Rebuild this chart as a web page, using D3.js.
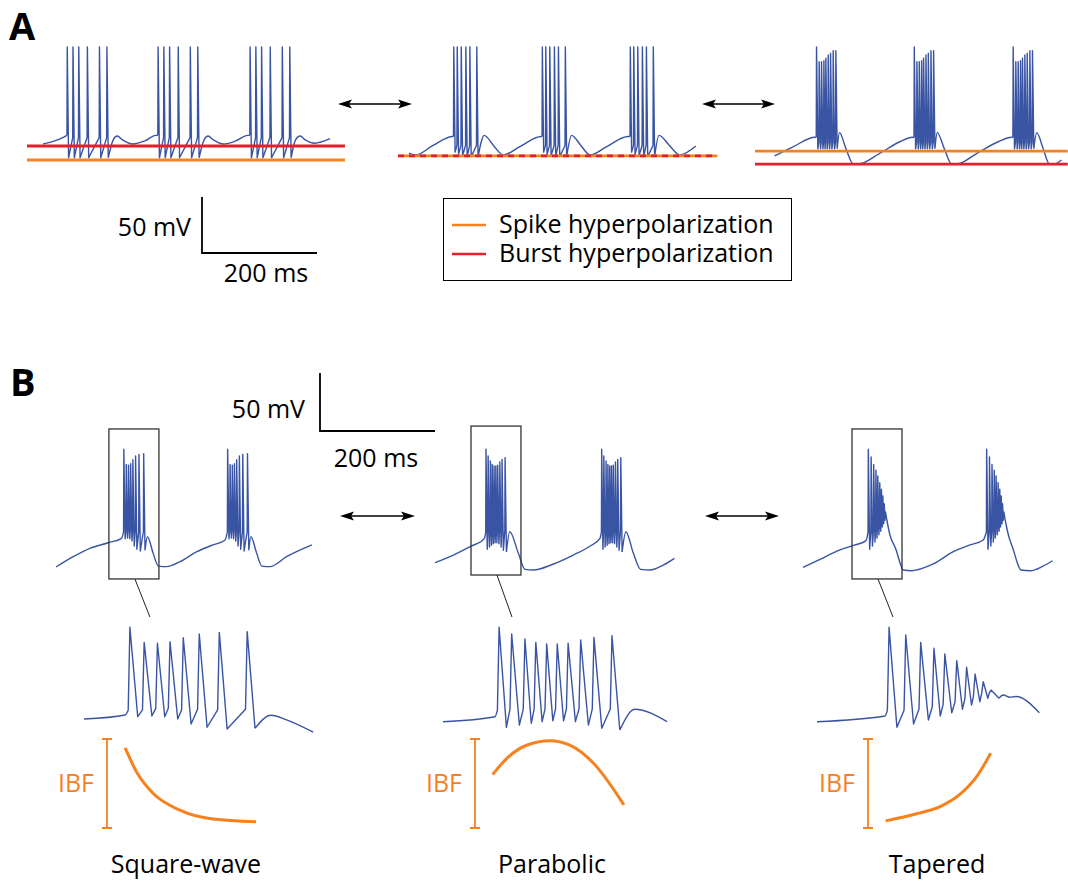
<!DOCTYPE html>
<html>
<meta charset="utf-8">
<script src="https://cdn.jsdelivr.net/npm/d3@7"></script>
<style>
body { margin: 0; background: #fff; }
svg text { font-family: "Open Sans", sans-serif; }
</style>
<body>
<svg id="fig" width="1068" height="882"></svg>
<script>
// colours
const BLUE = "#3a54a4", ORANGE = "#f5821f", RED = "#e5202a";

// ---------- panel A data (time in ms, voltage in mV) ----------
// slow wave waypoints [t, v] outside of the bursts
const a1Slow = [[28,-45.7],[48,-43],[64,-39.5],[150,-42],[157,-38.6],[166,-42],[184,-45.7],[205,-43],[224,-38],
  [308,-42],[315,-38.6],[324,-42],[342,-45.7],[363,-43],[384,-38],[467,-42],[475,-38.6],[484,-42],[500,-45],[527,-41]];
// burst spikes [dt from onset, pre level, peak, trough]
const a1Burst = [[0,-38,41,-58],[10,-40,41,-58],[20,-40,41,-58],[35,-40,41,-58],[56,-40,41,-58],[69,-40,41,-58]];
const a1Onsets = [70, 228, 388];

const a2Slow = [[19,-53.8],[31,-55.5],[61,-47],[95,-39],[150,-38],[166,-47],[183,-55.5],[212,-48],[249,-39],
  [302,-38],[318,-47],[334,-55.5],[363,-48],[400,-39],[454,-38],[472,-47],[490,-55.5],[518,-47.5]];
const a2Burst = [[0,-39,41,-53],[6,-47,41,-55],[13,-47,41,-56],[21,-47,41,-57],[28,-47,41,-57],[40,-47,41,-57]];
const a2Onsets = [97, 251, 404];

const a3Slow = [[34,-56.4],[67,-48],[104,-39.7],[147,-35.6],[158,-49.6],[171,-63.6],[180,-63.6],[217,-54],[252,-43.7],[274,-39.7],
  [317,-35.6],[329,-49.6],[342,-63.6],[351,-63.6],[386,-54],[423,-43.7],[446,-39.7],[490,-35.6],[501,-49.6],[512,-63.6],[520,-63.6],[533,-60]];
const a3Burst = [[0,-40,41,-50],[4.6,-44,27.8,-50],[8.7,-44,27.8,-50],[12.8,-44,28.7,-50],[16.2,-44,30.8,-50],
  [20.3,-44,33.8,-50],[24.4,-44,35.3,-50],[29,-44,37.6,-50],[33.6,-44,37.6,-50]];
const a3Onsets = [107, 277, 449];

// hyperpolarization levels (mV) and line length (ms) per trace
const aSpikeHyp = [-60, -56.4, -52];
const aBurstHyp = [-47.5, -56.4, -63.6];
const aLineEnd = [553, 555, 544];

// ---------- panel B data ----------
const b1Burst = [[0,-30,41.5,-35.6],[4.2,-29.8,28.5,-35],[8.1,-28.4,27.7,-35.6],[11.8,-28.4,29,-37.6],
  [15.7,-29.8,32.5,-41.9],[20.4,-29.2,35.7,-44.7],[26.3,-29.8,37.1,-46.2],[34.5,-29.2,37.7,-45.6]];
const b1Slow = [[0,-60],[30,-51.1],[59,-43.9],[91,-39.1],[114,-35.3],[159,-33.9],[169,-48.2],[178,-59.2],[192,-59.7],
  [216,-55.4],[245,-46.8],[273,-41],[294,-36.7],[339,-33.9],[349,-48.2],[358,-59.2],[372,-59.7],[401,-51.1],[445,-41]];
const b1Onsets = [118, 298.5];
const b1InsetSlow = [[0,-37.6],[12.1,-34.1],[55,-34.4],[59.6,-38.4],[67.4,-49]];
const b1InsetOnset = [13.5];

const b2Burst = [[0,-30,41.5,-44.7],[3.7,-29,35.7,-42.8],[7.6,-29,31.4,-41.3],[10.8,-29,28.5,-39.9],[14,-29,27.1,-39.1],
  [17.1,-29,27.1,-39.1],[20.3,-29,27.7,-39.9],[24,-29,30.5,-42.8],[27.9,-29,32.8,-45.6],[33.2,-29,34.2,-47.1]];
const b2Slow = [[0,-56.3],[32,-49.7],[61,-42.5],[86,-35.3],[130,-29.6],[145,-48.2],[156.5,-62],[171,-62.6],[206,-57.4],
  [240.5,-49.7],[270,-41.9],[287,-35.3],[332,-29.6],[345,-48.2],[357.6,-62],[374,-62.6],[397,-58.3],[416.4,-52.5]];
const b2Onsets = [88.7, 289.9];
const b2InsetSlow = [[0,-39.9],[15.3,-35.6],[56.4,-29.2],[65.9,-39.9]];
const b2InsetOnset = [16.5];

const b3Burst = [[0,-30,41.5,-44.7],[4.9,-30,34.8,-41.9],[9.3,-29,28.5,-38.4],[13.2,-27,23.4,-35],[16.4,-25,18.4,-32.2],
  [19.9,-23,12.7,-29.2],[22.8,-20,7,-25.5],[25.3,-18,1.2,-22.7],[27.7,-16,-5.4,-19.7],[30,-15,-12.6,-19.7]];
const b3Slow = [[0,-60.3],[29.6,-53.4],[64.3,-45.3],[90.4,-41],[109.6,-37.3],[151,-32],[162,-45.3],[169,-56.8],[174.4,-62.6],
  [189,-63.2],[226.6,-57.4],[261.4,-46.8],[290.4,-41],[313.5,-36.7],[357,-32],[366,-45.3],[373,-56.8],[379,-62.6],[395,-63.2],[418,-59.1],[434,-54.6]];
const b3Onsets = [113.6, 319.4];
const b3InsetSlow = [[0,-39.9],[20,-35],[54.8,-16.9],[56.7,-18.9],[58.5,-18.2],[65.4,-32.2]];
const b3InsetOnset = [21.2];

// zoom boxes [t0, t1] and [v0, v1] on the B overview traces
const bBoxT = [[92,179],[62.6,149.5],[85.2,172.2]];
const bBoxV = [[-70.3,59],[-66.9,61.5],[-70.3,59]];

// intra-burst frequency (normalised) vs inset time
const b1Ibf = [[12.1,0.90],[15.6,0.62],[20.3,0.39],[28.2,0.20],[37.9,0.10],[50.6,0.07]];
const b2Ibf = [[14.6,0.60],[18.7,0.78],[24.6,0.93],[31.5,0.98],[37.3,0.93],[44.2,0.73],[53.2,0.26]];
const b3Ibf = [[20.2,0.08],[29.3,0.16],[36.2,0.24],[42.1,0.38],[47,0.58],[51.1,0.84]];

const bNames = ["Square-wave", "Parabolic", "Tapered"];

// ---------- layout ----------
const svg = d3.select("#fig");
svg.append("rect").attr("width", 1068).attr("height", 882).attr("fill", "#fff");

const aX0 = [27, 398, 755], bX0 = [56, 435, 803], insX0 = [84, 443, 817];
const yA = d3.scaleLinear().domain([-60, 40]).range([160, 48]);
const yB = d3.scaleLinear().domain([-60, 40]).range([567, 451]);
const yIns = d3.scaleLinear().domain([-60, 40]).range([745, 629]);
const yIbf = d3.scaleLinear().domain([0, 1]).range([828, 739]);
function tScale(x0) { return d3.scaleLinear().domain([0, 200]).range([x0, x0 + 115]); }
function insScale(x0) { return d3.scaleLinear().domain([0, 50]).range([x0, x0 + 170]); }

// points [t, v, isSpike]
function buildTrace(slow, burst, onsets) {
  var pts = slow.map(d => [d[0], d[1], false]);
  onsets.forEach(function(t0) {
    burst.forEach(function(s, i) {
      var t = t0 + s[0];
      var next = burst[i + 1];
      var fall = next ? Math.min(2.3, 0.58 * (next[0] - s[0])) : 2.3;
      pts.push([t - 0.5, s[1], true], [t, s[2], true], [t + fall, s[3], true]);
    });
  });
  pts.sort(function(a, b) { return a[0] - b[0]; });
  return pts;
}

// slow stretches are smoothed, spikes are kept sharp
function drawTrace(x, y, pts) {
  var smooth = d3.line().x(d => x(d[0])).y(d => y(d[1])).curve(d3.curveMonotoneX);
  var sharp = d3.line().x(d => x(d[0])).y(d => y(d[1]));
  var out = "", start = 0, cur = null;
  for (var i = 1; i < pts.length; i++) {
    var s = pts[i - 1][2] && pts[i][2];
    if (cur === null) cur = s;
    if (s !== cur) {
      out += (cur ? sharp : smooth)(pts.slice(start, i));
      start = i - 1;
      cur = s;
    }
  }
  out += (cur ? sharp : smooth)(pts.slice(start));
  svg.append("path")
    .attr("fill", "none")
    .attr("stroke", BLUE)
    .attr("stroke-width", 1.4)
    .attr("stroke-linejoin", "round")
    .attr("d", out);
}

function arrow(x1, x2, y) {
  svg.append("line").attr("x1", x1 + 8).attr("x2", x2 - 8).attr("y1", y).attr("y2", y)
    .attr("stroke", "#000").attr("stroke-width", 1.6);
  svg.append("path").attr("fill", "#000")
    .attr("d", "M" + x1 + "," + y + "l14,-4.5l-3,4.5l3,4.5z");
  svg.append("path").attr("fill", "#000")
    .attr("d", "M" + x2 + "," + y + "l-14,-4.5l3,4.5l-3,4.5z");
}

function scaleBar(cx, cy, x, y, vLabel, tLabel) {
  var h = y(-60) - y(-10), w = x(200) - x(0);
  svg.append("path").attr("fill", "none").attr("stroke", "#000").attr("stroke-width", 1.8)
    .attr("d", "M" + cx + "," + (cy - h) + "V" + cy + "H" + (cx + w));
  svg.append("text").attr("x", vLabel[0]).attr("y", vLabel[1]).attr("text-anchor", "end")
    .attr("font-size", 25).text("50 mV");
  svg.append("text").attr("x", tLabel[0]).attr("y", tLabel[1]).attr("text-anchor", "middle")
    .attr("font-size", 25).text("200 ms");
}

// ---------- panel A ----------
svg.append("text").attr("x", 9).attr("y", 40).attr("font-size", 38).attr("font-weight", 700).text("A");

const aData = [[a1Slow, a1Burst, a1Onsets], [a2Slow, a2Burst, a2Onsets], [a3Slow, a3Burst, a3Onsets]];
aData.forEach(function(d, i) {
  var x = tScale(aX0[i]);
  drawTrace(x, yA, buildTrace(d[0], d[1], d[2]));
  svg.append("line").attr("x1", x(0)).attr("x2", x(aLineEnd[i]))
    .attr("y1", yA(aSpikeHyp[i])).attr("y2", yA(aSpikeHyp[i]))
    .attr("stroke", ORANGE).attr("stroke-width", 2.8);
  svg.append("line").attr("x1", x(0)).attr("x2", x(aLineEnd[i]))
    .attr("y1", yA(aBurstHyp[i])).attr("y2", yA(aBurstHyp[i]))
    .attr("stroke", RED).attr("stroke-width", 2.8)
    .attr("stroke-dasharray", aSpikeHyp[i] === aBurstHyp[i] ? "6,5" : null);
});

arrow(338, 412, 104);
arrow(702, 775, 104);
scaleBar(202, 253, tScale(0), yA, [191, 236], [266, 282]);

// legend
svg.append("rect").attr("x", 443.5).attr("y", 198.5).attr("width", 348).attr("height", 82)
  .attr("fill", "none").attr("stroke", "#000").attr("stroke-width", 1);
[["Spike hyperpolarization", ORANGE], ["Burst hyperpolarization", RED]].forEach(function(d, i) {
  var yy = 225 + i * 29;
  svg.append("line").attr("x1", 452).attr("x2", 486).attr("y1", yy).attr("y2", yy)
    .attr("stroke", d[1]).attr("stroke-width", 2.5);
  svg.append("text").attr("x", 499).attr("y", yy + 8).attr("font-size", 25).text(d[0]);
});

// ---------- panel B ----------
svg.append("text").attr("x", 10).attr("y", 396).attr("font-size", 38).attr("font-weight", 700).text("B");
scaleBar(320, 431, tScale(0), yB, [305, 418], [376, 467]);
arrow(340, 415, 516);
arrow(705, 779, 516);

const bData = [
  [b1Slow, b1Burst, b1Onsets, b1InsetSlow, b1InsetOnset, b1Ibf],
  [b2Slow, b2Burst, b2Onsets, b2InsetSlow, b2InsetOnset, b2Ibf],
  [b3Slow, b3Burst, b3Onsets, b3InsetSlow, b3InsetOnset, b3Ibf]
];
const ibfBarX = [107, 475, 868];
const nameX = [186, 552, 937];

bData.forEach(function(d, i) {
  var x = tScale(bX0[i]);
  drawTrace(x, yB, buildTrace(d[0], d[1], d[2]));

  // zoom box + connector
  var bx0 = x(bBoxT[i][0]), bx1 = x(bBoxT[i][1]);
  var by0 = yB(bBoxV[i][1]), by1 = yB(bBoxV[i][0]);
  svg.append("rect").attr("x", bx0).attr("y", by0).attr("width", bx1 - bx0).attr("height", by1 - by0)
    .attr("fill", "none").attr("stroke", "#333").attr("stroke-width", 1.3);
  var cx = bx0 + 0.52 * (bx1 - bx0);
  svg.append("line").attr("x1", cx).attr("y1", by1).attr("x2", cx + 15).attr("y2", 617)
    .attr("stroke", "#222").attr("stroke-width", 1);

  // magnified burst
  var xi = insScale(insX0[i]);
  drawTrace(xi, yIns, buildTrace(d[3], d[1], d[4]));

  // IBF
  var bx = ibfBarX[i];
  svg.append("path").attr("fill", "none").attr("stroke", ORANGE).attr("stroke-width", 1.8)
    .attr("d", "M" + (bx - 5) + "," + yIbf(1) + "H" + (bx + 5) + "M" + bx + "," + yIbf(1) +
      "V" + yIbf(0) + "M" + (bx - 5) + "," + yIbf(0) + "H" + (bx + 5));
  svg.append("text").attr("x", bx - 13).attr("y", 792).attr("text-anchor", "end")
    .attr("font-size", 25).attr("fill", ORANGE).text("IBF");
  svg.append("path").datum(d[5]).attr("fill", "none").attr("stroke", ORANGE).attr("stroke-width", 3)
    .attr("d", d3.line().x(p => xi(p[0])).y(p => yIbf(p[1])).curve(d3.curveMonotoneX));

  svg.append("text").attr("x", nameX[i]).attr("y", 873).attr("text-anchor", "middle")
    .attr("font-size", 25).text(bNames[i]);
});
</script>
</body>
</html>
